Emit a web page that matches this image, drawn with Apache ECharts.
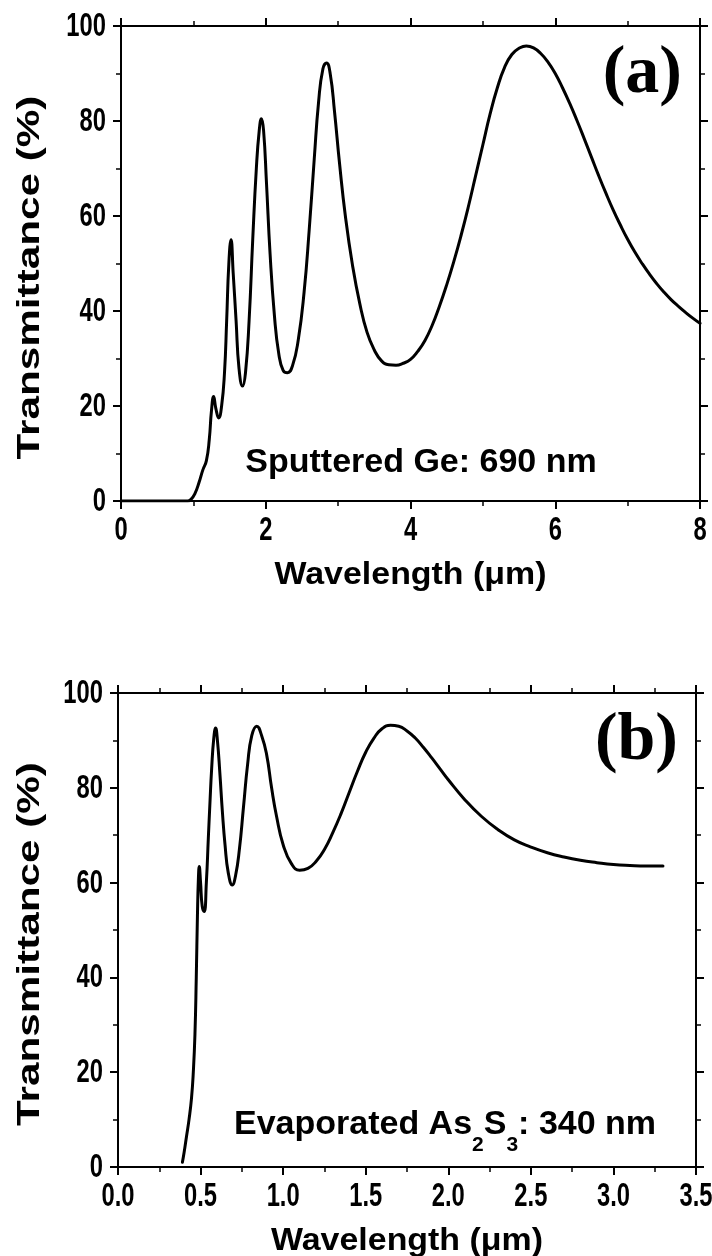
<!DOCTYPE html>
<html>
<head>
<meta charset="utf-8">
<script src="https://cdn.jsdelivr.net/npm/echarts@6/dist/echarts.min.js"></script>
<style>
  html, body { margin: 0; padding: 0; background: #fff; }
  #chart { width: 712px; height: 1256px; }
</style>
</head>
<body>
<div id="chart"></div>
<script>
// Panel (a): sputtered Ge film, 690 nm
const geWavelength = [0, 0.5, 0.92, 0.97, 1.02, 1.08, 1.13, 1.18, 1.22, 1.25, 1.28, 1.31, 1.35, 1.39, 1.43, 1.46, 1.49, 1.52, 1.55, 1.59, 1.63, 1.68, 1.72, 1.77, 1.82, 1.87, 1.91, 1.94, 1.97, 2.01, 2.06, 2.12, 2.18, 2.24, 2.30, 2.37, 2.45, 2.53, 2.60, 2.67, 2.73, 2.79, 2.84, 2.89, 2.95, 3.02, 3.10, 3.20, 3.30, 3.40, 3.50, 3.60, 3.70, 3.80, 3.90, 4.00, 4.10, 4.20, 4.30, 4.40, 4.50, 4.60, 4.70, 4.80, 4.90, 5.00, 5.10, 5.20, 5.30, 5.40, 5.50, 5.60, 5.70, 5.80, 5.90, 6.00, 6.10, 6.20, 6.30, 6.40, 6.50, 6.60, 6.70, 6.80, 6.90, 7.00, 7.10, 7.20, 7.30, 7.40, 7.50, 7.60, 7.70, 7.80, 7.90, 8.00];
const geTransmittance = [0, 0, 0, 0.4, 1.5, 4, 6.5, 8.5, 13, 19, 22, 19.5, 17.5, 20, 27, 38, 50, 55, 48, 38, 28, 24.2, 27, 38, 55, 70, 78, 80.5, 78, 67, 52, 39, 31, 27.5, 27, 28.5, 34, 44, 57, 72, 84, 91, 92.2, 90, 82, 71, 60, 49.5, 41.5, 35.5, 31.8, 29.5, 28.7, 28.6, 29, 29.8, 31.5, 33.8, 37, 41, 45.5, 50.5, 56, 62, 68.5, 75, 81.5, 87, 91.3, 94, 95.3, 95.8, 95.4, 94.2, 92.4, 90, 87, 83.7, 80.1, 76.3, 72.4, 68.5, 64.8, 61.3, 58.1, 55.1, 52.4, 50, 47.8, 45.8, 44, 42.4, 41, 39.7, 38.5, 37.4];

// Panel (b): evaporated As2S3 film, 340 nm
const asWavelength = [0.39, 0.40, 0.415, 0.43, 0.445, 0.456, 0.466, 0.474, 0.481, 0.487, 0.492, 0.50, 0.51, 0.522, 0.535, 0.547, 0.557, 0.567, 0.58, 0.591, 0.602, 0.617, 0.632, 0.648, 0.668, 0.692, 0.712, 0.735, 0.76, 0.785, 0.81, 0.84, 0.87, 0.90, 0.93, 0.96, 1.00, 1.05, 1.10, 1.15, 1.20, 1.25, 1.30, 1.35, 1.40, 1.45, 1.50, 1.55, 1.60, 1.65, 1.70, 1.75, 1.80, 1.85, 1.90, 1.95, 2.00, 2.10, 2.20, 2.30, 2.40, 2.50, 2.60, 2.70, 2.80, 2.90, 3.00, 3.10, 3.20, 3.30];
const asTransmittance = [1, 3, 6.5, 10, 14.5, 20, 28, 40, 53, 61, 63.4, 60, 55, 53.9, 60, 69.4, 77, 84, 90.5, 92.6, 90, 83, 75, 68, 62, 59.5, 61.5, 67, 76, 85, 91, 93, 91, 87, 80, 74, 68, 64, 62.6, 63, 64.5, 67, 70.5, 74.5, 79, 83.5, 87.5, 90.5, 92.5, 93.2, 93, 92, 90.5, 88.5, 86.3, 84, 81.7, 77.5, 74, 71.2, 69, 67.5, 66.3, 65.4, 64.7, 64.2, 63.8, 63.6, 63.5, 63.5];

// Tick labels
const geXTicks = ['0', '2', '4', '6', '8'];
const asXTicks = ['0.0', '0.5', '1.0', '1.5', '2.0', '2.5', '3.0', '3.5'];
const yTicks = ['0', '20', '40', '60', '80', '100'];

// Axis ranges and tick steps
const geXRange = [0, 8], geXStep = 2;
const asXRange = [0, 3.5], asXStep = 0.5;
const yRange = [0, 100], yStep = 20;

const yTitle = 'Transmittance (%)';
const xTitle = 'Wavelength (\u03bcm)';
const panelTags = ['(a)', '(b)'];

const zip = (xs, ys) => xs.map((x, i) => [x, ys[i]]);

const sans = "'Liberation Sans', Arial, sans-serif";
const serif = "'Liberation Serif', 'Times New Roman', serif";

const lineStyle = { color: '#000', width: 2 };
const tickStyle = { show: true, length: 8, lineStyle: { color: '#000', width: 2 } };
const minorStyle = { show: true, splitNumber: 2, length: 5, lineStyle: { color: '#000', width: 1.5 } };

function axisBase(gridIndex, range, step) {
  return {
    type: 'value', gridIndex, min: range[0], max: range[1], interval: step,
    axisLine: { show: true, onZero: false, lineStyle },
    axisTick: tickStyle, minorTick: minorStyle, splitLine: { show: false },
    axisLabel: { show: false }
  };
}
const xAxes = (g, range, step) => [
  Object.assign(axisBase(g, range, step), { position: 'bottom' }),
  Object.assign(axisBase(g, range, step), { position: 'top' })
];
const yAxes = (g) => [
  Object.assign(axisBase(g, yRange, yStep), { position: 'left' }),
  Object.assign(axisBase(g, yRange, yStep), { position: 'right' })
];

const chart = echarts.init(document.getElementById('chart'), null, { renderer: 'canvas' });

const curve = (xi, yi, data) => ({
  type: 'line', xAxisIndex: xi, yAxisIndex: yi, data,
  showSymbol: false, smooth: 0.5,
  lineStyle: { color: '#000', width: 3, cap: 'round', join: 'round' },
  silent: true, animation: false
});

const grids = [
  { left: 121, top: 26, width: 579, height: 475 },
  { left: 118, top: 693, width: 578, height: 474 }
];

chart.setOption({
  animation: false,
  backgroundColor: '#fff',
  grid: grids,
  xAxis: [...xAxes(0, geXRange, geXStep), ...xAxes(1, asXRange, asXStep)],
  yAxis: [...yAxes(0), ...yAxes(1)],
  series: [
    curve(0, 0, zip(geWavelength, geTransmittance)),
    curve(2, 2, zip(asWavelength, asTransmittance))
  ]
});

// Condensed bold tick labels and stretched axis titles, placed through the axes' own scales
const labelFont = 'bold 33px ' + sans;
const labelScale = 0.72;
const titleFont = 'bold 32px ' + sans;
const graphics = [];

function panelText(xi, yi, xTicks, gridIdx) {
  const g = grids[gridIdx];
  const yBase = chart.convertToPixel({ yAxisIndex: yi }, yRange[0]);
  const xBase = chart.convertToPixel({ xAxisIndex: xi }, parseFloat(xTicks[0]));
  xTicks.forEach(t => {
    const px = chart.convertToPixel({ xAxisIndex: xi }, parseFloat(t));
    graphics.push({ type: 'text', x: px, y: yBase + 30, scaleX: labelScale, silent: true,
      style: { text: t, font: labelFont, fill: '#000', align: 'center', verticalAlign: 'middle' } });
  });
  yTicks.forEach(t => {
    const py = chart.convertToPixel({ yAxisIndex: yi }, parseFloat(t));
    graphics.push({ type: 'text', x: xBase - 15, y: py + 1, scaleX: labelScale, silent: true,
      style: { text: t, font: labelFont, fill: '#000', align: 'right', verticalAlign: 'middle' } });
  });
  // axis titles
  graphics.push({ type: 'text', x: g.left + g.width / 2, y: g.top + g.height + 74, scaleX: 1.06, silent: true,
    style: { text: xTitle, font: titleFont, fill: '#000', align: 'center', verticalAlign: 'middle' } });
  graphics.push({ type: 'text', x: 30, y: g.top + g.height / 2 + 14, rotation: Math.PI / 2, scaleX: 1.32, silent: true,
    style: { text: yTitle, font: titleFont, fill: '#000', align: 'center', verticalAlign: 'middle' } });
  // panel tag
  graphics.push({ type: 'text', x: g.left + g.width - 18, y: g.top + 48, silent: true,
    style: { text: panelTags[gridIdx], font: 'bold 68px ' + serif, fill: '#000', align: 'right', verticalAlign: 'middle' } });
}
panelText(0, 0, geXTicks, 0);
panelText(2, 2, asXTicks, 1);

graphics.push({ type: 'text', x: 421, y: 463, silent: true,
  style: { text: 'Sputtered Ge: 690 nm', font: 'bold 34px ' + sans, fill: '#000', align: 'center', verticalAlign: 'middle' } });
graphics.push({
  type: 'text', x: 234, y: 1108, silent: true,
  style: {
    text: '{m|Evaporated As}{s|2}{m|S}{s|3}{m|: 340 nm}',
    rich: {
      m: { fontFamily: sans, fontWeight: 'bold', fontSize: 34, lineHeight: 48, fill: '#000', verticalAlign: 'top' },
      s: { fontFamily: sans, fontWeight: 'bold', fontSize: 21, lineHeight: 20, fill: '#000', verticalAlign: 'bottom' }
    }
  }
});

chart.setOption({ graphic: graphics });
</script>
</body>
</html>
